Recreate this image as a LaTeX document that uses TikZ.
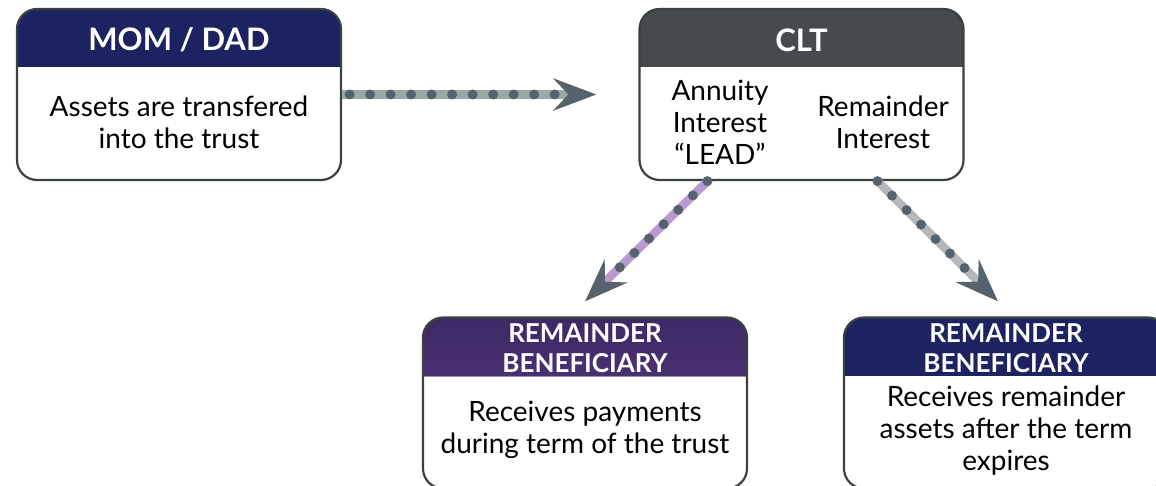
\documentclass[tikz,border=0pt]{standalone}
\usepackage{fontspec}
\setmainfont{Lato}
\usetikzlibrary{arrows.meta,calc}

\definecolor{navy}{HTML}{1D2361}
\definecolor{slate}{HTML}{464A4E}
\definecolor{plumtop}{HTML}{3E2865}
\definecolor{plumbot}{HTML}{5C3F8C}
\definecolor{edge}{HTML}{3A4240}
\definecolor{dotc}{HTML}{57636C}
\definecolor{railgreen}{HTML}{9AA9A6}
\definecolor{railplum}{HTML}{B899D1}
\definecolor{railgray}{HTML}{B4B8BB}

\tikzset{
  card/.style={draw=edge, line width=2.2pt, rounded corners=20pt, fill=white,
    minimum width=324pt, minimum height=171pt, inner sep=0pt},
  headfill/.style={path picture={
    \fill[#1, sharp corners] (path picture bounding box.north west)
      rectangle ([yshift=-58pt]path picture bounding box.north east);}},
  headshade/.style={path picture={
    \shade[sharp corners, top color=plumtop, bottom color=plumbot]
      (path picture bounding box.north west)
      rectangle ([yshift=-59pt]path picture bounding box.north east);
    \draw[sharp corners, line width=1.2pt, color=plumbot!60!white]
      ([yshift=-59pt]path picture bounding box.north west)
      -- ([yshift=-59pt]path picture bounding box.north east);}},
  bigtitle/.style={text=white, font=\fontsize{31}{36}\selectfont\bfseries, inner sep=0pt},
  smalltitle/.style={text=white, font=\fontsize{26}{30}\selectfont\bfseries, align=center, inner sep=0pt},
  bodytxt/.style={text=black, font=\fontsize{28}{32}\selectfont, align=center, inner sep=0pt},
  % dotted flow: light rail, dark dots, dark notched head
  rail/.style 2 args={line width=8.5pt, draw=#1, shorten >=#2,
    -{Stealth[length=43pt, width=32pt, inset=15pt, color=dotc, fill=dotc]},
    postaction={draw=dotc, -, shorten >=#2+37pt, line width=10pt, line cap=round,
      dash pattern=on 0pt off 20.5pt}},
}

\begin{document}
\begin{tikzpicture}[x=1pt, y=-1pt]
\useasboundingbox (0,0) rectangle (1156,486);
\clip (0,0) rectangle (1156,486);

% boxes
\node[card, headfill=navy] (mom) at (179,94.5) {};
\node[card, headfill=slate] (clt) at (801.5,94.5) {};
\node[card, headshade] (lben) at (585,403) {};
\node[card, headfill=navy] (rben) at (1006,403) {};

% titles
\node[bigtitle] (momtitle) at (179,40) {MOM / DAD};
\node[bigtitle] (clttitle) at (801.5,40) {CLT};
\node[smalltitle] (ltitle) at (585,348) {REMAINDER\\BENEFICIARY};
\node[smalltitle] (rtitle) at (1006,348) {REMAINDER\\BENEFICIARY};

% texts
\node[bodytxt] (momtxt) at (179,122) {Assets are transfered\\into the trust};
\node[bodytxt] (lead) at (720,122) {Annuity\\Interest\\“LEAD”};
\node[bodytxt] (remint) at (883,122) {Remainder\\Interest};
\node[bodytxt] (ltxt) at (585,430) {Receives payments\\during term of the trust};
\node[bodytxt] (rtxt) at (1006,431) {Receives remainder\\assets after the term\\expires};

% flows
\draw[rail={railgreen}{42pt}, dash phase=13pt] (mom.east) -- (clt.west);
\draw[rail={railplum}{0pt}] ([xshift=-94pt]clt.south) -- ([yshift=15pt]lben.north);
\draw[rail={railgray}{0pt}] ([xshift=76pt]clt.south) -- ([xshift=-8pt,yshift=15pt]rben.north);
\end{tikzpicture}
\end{document}
